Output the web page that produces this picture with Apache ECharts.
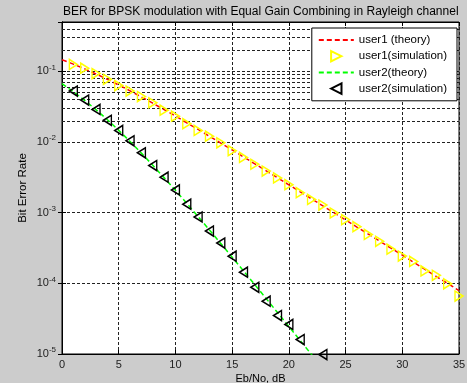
<!DOCTYPE html>
<html><head><meta charset="utf-8">
<script src="https://cdn.jsdelivr.net/npm/echarts@6/dist/echarts.min.js"></script>
<style>html,body{margin:0;padding:0;background:#cccccc}#c{width:467px;height:383px}</style>
</head><body><div id="c"></div>
<script>
const titleText = 'BER for BPSK modulation with Equal Gain Combining in Rayleigh channel';
const xName = 'Eb/No, dB';
const yName = 'Bit Error Rate';
const seriesNames = ['user1 (theory)', 'user1(simulation)', 'user2(theory)', 'user2(simulation)'];

const xUser1Theory = [0,1,2,3,4,5,6,7,8,9,10,11,12,13,14,15,16,17,18,19,20,21,22,23,24,25,26,27,28,29,30,31,32,33,34,35];
const user1Theory = [0.1464,0.1267,0.1085,0.0919,0.0771,0.0642,0.0530,0.0435,0.0355,0.0288,0.0233,0.01874,0.01506,0.01207,0.00966,0.00772,0.00616,0.00491,0.00392,0.00312,0.00248,0.00197,0.00157,0.001248,0.000994,0.000790,0.000627,0.000499,0.000396,0.000315,0.000250,0.000199,0.000158,0.000125,0.0000995,0.0000790];

const xUser1Sim = [1,2,3,4,5,6,7,8,9,10,11,12,13,14,15,16,17,18,19,20,21,22,23,24,25,26,27,28,29,30,31,32,33,34,35];
const user1Sim = [0.1256,0.1110,0.0930,0.0771,0.0630,0.0526,0.0440,0.0360,0.0282,0.0232,0.0182,0.0146,0.0121,0.00975,0.00755,0.00605,0.00485,0.00388,0.00310,0.00249,0.00192,0.00154,0.00128,0.00099,0.000796,0.000635,0.000492,0.000393,0.000305,0.000243,0.000204,0.000150,0.000130,0.0000985,0.0000660];

const xUser2Theory = [0,1,2,3,4,5,6,7,8,9,10,11,12,13,14,15,16,17,18,19,20,21,22,23];
const user2Theory = [0.0670,0.05166,0.03893,0.02869,0.02070,0.01464,0.01018,0.006965,0.004701,0.003136,0.002070,0.001356,0.000881,0.000569,0.0003665,0.0002349,0.0001501,0.0000957,0.0000609,0.0000386,0.0000245,0.00001553,0.00000983,0.00000622];

const xUser2Sim = [1,2,3,4,5,6,7,8,9,10,11,12,13,14,15,16,17,18,19,20,21,23];
const user2Sim = [0.0526,0.0392,0.0289,0.0203,0.0146,0.0104,0.00703,0.00464,0.00318,0.00210,0.00132,0.000869,0.000550,0.000372,0.000242,0.000144,0.0000880,0.0000560,0.0000350,0.0000262,0.0000160,0.0000098];

const yMinorGrid = [2e-5,3e-5,4e-5,5e-5,6e-5,7e-5,8e-5,9e-5,
  2e-4,3e-4,4e-4,5e-4,6e-4,7e-4,8e-4,9e-4,
  2e-3,3e-3,4e-3,5e-3,6e-3,7e-3,8e-3,9e-3,
  2e-2,3e-2,4e-2,5e-2,6e-2,7e-2,8e-2,9e-2,
  0.2,0.3,0.4];

const FONT = '"Liberation Sans", Arial, Helvetica, sans-serif';
const pairs = (xs, ys) => xs.map((x, i) => [x, ys[i]]);
const gridLine = {color: '#222', type: [3, 2], width: 1};

const chart = echarts.init(document.getElementById('c'), null, {renderer: 'canvas'});
const yFormatter = v => {
  const e = Math.round(Math.log10(v));
  if (Math.abs(v / Math.pow(10, e) - 1) < 1e-6) return '10{s|' + e + '}';
  return '';
};
chart.setOption({
  animation: false,
  backgroundColor: '#cccccc',
  title: {text: titleText, left: 58, top: 1, textStyle: {fontFamily: FONT, fontSize: 12, fontWeight: 'normal', color: '#000'}},
  grid: {left: 62, right: 8, top: 22, bottom: 29, show: true, backgroundColor: '#fff', borderColor: '#000', borderWidth: 1, containLabel: false, outerBoundsMode: 'none'},
  legend: {
    orient: 'vertical', right: 10, top: 28, z: 100, zlevel: 0,
    backgroundColor: '#fff', borderColor: '#000', borderWidth: 1,
    padding: [6, 10, 6, 6], itemGap: 4, itemWidth: 35, itemHeight: 13,
    textStyle: {fontFamily: FONT, fontSize: 11.5, color: '#000'},
    data: [
      {name: seriesNames[0], itemStyle: {opacity: 0}},
      {name: seriesNames[1]},
      {name: seriesNames[2], itemStyle: {opacity: 0}},
      {name: seriesNames[3]}
    ]
  },
  xAxis: [{
    type: 'value', min: 0, max: 35, interval: 5,
    name: xName, nameLocation: 'middle', nameGap: 19, nameMoveOverlap: false,
    nameTextStyle: {fontFamily: FONT, fontSize: 11, color: '#000'},
    axisLine: {show: true, lineStyle: {color: '#000'}},
    axisTick: {show: true, inside: true, length: 4, lineStyle: {color: '#000'}},
    axisLabel: {fontFamily: FONT, fontSize: 11, color: '#222', margin: 5},
    splitLine: {show: true, lineStyle: gridLine}
  }, {
    type: 'value', position: 'top', min: 0, max: 35, interval: 5,
    axisLine: {show: true, lineStyle: {color: '#000'}},
    axisTick: {show: true, inside: true, length: 4, lineStyle: {color: '#000'}},
    axisLabel: {show: false}, splitLine: {show: false}
  }],
  yAxis: [{
    type: 'log', logBase: 10, min: 1e-5, max: 0.5,
    name: yName, nameLocation: 'middle', nameGap: 33, nameMoveOverlap: false,
    nameTextStyle: {fontFamily: FONT, fontSize: 11.5, color: '#000'},
    axisLine: {show: true, lineStyle: {color: '#000'}},
    axisTick: {show: true, inside: true, length: 4, lineStyle: {color: '#000'}},
    axisLabel: {fontFamily: FONT, fontSize: 11, color: '#222', margin: 6, formatter: yFormatter,
      rich: {s: {fontFamily: FONT, fontSize: 8, color: '#222', padding: [0, 0, 8, 0]}}},
    splitLine: {show: true, lineStyle: gridLine}
  }, {
    type: 'log', logBase: 10, min: 1e-5, max: 0.5, position: 'right',
    axisLine: {show: true, lineStyle: {color: '#000'}},
    axisTick: {show: true, inside: true, length: 4, lineStyle: {color: '#000'}},
    axisLabel: {show: false}, splitLine: {show: false}
  }],
  series: [{
    name: seriesNames[0], type: 'line', data: pairs(xUser1Theory, user1Theory),
    symbol: 'none', lineStyle: {color: '#ff0000', width: 1.5, type: [5, 3]}, itemStyle: {color: '#ff0000'},
    markLine: {silent: true, symbol: ['none', 'none'], label: {show: false}, animation: false, z: 1,
      lineStyle: gridLine, emphasis: {disabled: true},
      data: yMinorGrid.map(v => ({yAxis: v}))},
    z: 3
  }, {
    name: seriesNames[1], type: 'line', data: pairs(xUser1Sim, user1Sim), clip: false,
    symbol: 'triangle', symbolRotate: -90, symbolSize: [10, 8],
    lineStyle: {width: 0, opacity: 0},
    itemStyle: {color: 'rgba(0,0,0,0)', borderColor: '#ffff00', borderWidth: 1.5},
    z: 4
  }, {
    name: seriesNames[2], type: 'line', data: pairs(xUser2Theory, user2Theory),
    symbol: 'none', lineStyle: {color: '#00ff00', width: 1.5, type: [5, 3]}, itemStyle: {color: '#00ff00'},
    z: 3
  }, {
    name: seriesNames[3], type: 'line', data: pairs(xUser2Sim, user2Sim), clip: false,
    symbol: 'triangle', symbolRotate: 90, symbolSize: [10, 8],
    lineStyle: {width: 0, opacity: 0},
    itemStyle: {color: 'rgba(0,0,0,0)', borderColor: '#000000', borderWidth: 1.5},
    z: 4
  }]
});
</script></body></html>
